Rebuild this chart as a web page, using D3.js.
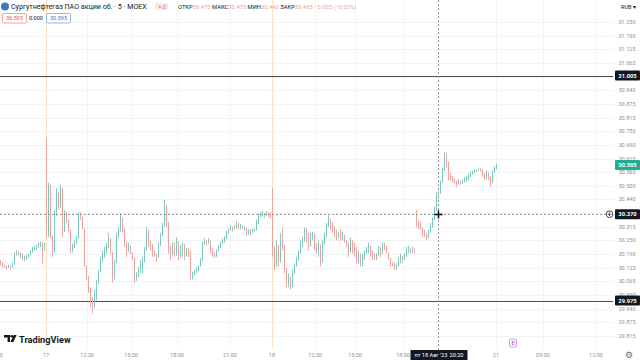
<!DOCTYPE html>
<html>
<head>
  <meta charset="utf-8">
  <style>
    body { margin: 0; background: #fff; }
    svg { display: block; font-family: Roboto, "Noto Sans", sans-serif; }
  </style>
</head>
<body>
  <div id="chart"></div>
  <script src="https://d3js.org/d3.v7.min.js"></script>
  <script>
    // 5-min candles of SNGS, Aug 16 evening .. Aug 18 close (one entry ~ every 1.5 bars)
    var opens = [
      30.15, 30.145, 30.135, 30.13, 30.125, 30.135, 30.125, 30.14, 30.19, 30.195, 30.19, 30.19, 30.17, 30.17, 30.175, 30.185, 30.195, 30.215, 30.22, 30.225, 30.235, 30.24, 30.23,
      30.525, 30.29, 30.505, 30.27, 30.205, 30.37, 30.47, 30.41, 30.49, 30.29, 30.375, 30.345, 30.30, 30.205, 30.22, 30.235, 30.26, 30.37, 30.36, 30.305, 30.135, 30.085, 30.025,
      29.975, 29.955, 30.00, 30.055, 30.105, 30.16, 30.185, 30.205, 30.225, 30.26, 30.195, 30.08, 30.15, 30.27, 30.30, 30.35, 30.305, 30.24, 30.205, 30.225, 30.195, 30.17, 30.08,
      30.085, 30.115, 30.135, 30.15, 30.205, 30.29, 30.245, 30.23, 30.195, 30.19, 30.17, 30.225, 30.27, 30.315, 30.41, 30.335, 30.215, 30.185, 30.225, 30.195, 30.245, 30.18, 30.205,
      30.225, 30.18, 30.205, 30.195, 30.08, 30.095, 30.105, 30.115, 30.135, 30.16, 30.24, 30.25, 30.24, 30.25, 30.205, 30.19, 30.18, 30.205, 30.22, 30.24, 30.25, 30.26, 30.285,
      30.30, 30.31, 30.30, 30.31, 30.33, 30.31, 30.31, 30.305, 30.305, 30.28, 30.30, 30.29, 30.30, 30.30, 30.33, 30.365, 30.365, 30.375, 30.365, 30.375, 30.365,
      30.375, 30.205, 30.135, 30.23, 30.15, 30.25, 30.23, 30.115, 30.06, 30.08, 30.045, 30.10, 30.135, 30.16, 30.19, 30.24, 30.25, 30.30, 30.26, 30.23, 30.27, 30.275, 30.225,
      30.205, 30.23, 30.15, 30.24, 30.27, 30.315, 30.345, 30.315, 30.30, 30.285, 30.27, 30.28, 30.26, 30.275, 30.25, 30.235, 30.195, 30.25, 30.215, 30.195, 30.17, 30.19, 30.14,
      30.18, 30.195, 30.21, 30.225, 30.19, 30.185, 30.175, 30.185, 30.215, 30.19, 30.23, 30.22, 30.195, 30.17, 30.14, 30.135, 30.125, 30.135, 30.16, 30.18, 30.165, 30.19, 30.21,
      30.215, 30.195, 30.21, 30.365, 30.335, 30.315, 30.305, 30.285, 30.275, 30.26, 30.29, 30.315, 30.345, 30.39, 30.47, 30.465, 30.515, 30.57, 30.62, 30.61, 30.545, 30.54, 30.525,
      30.515, 30.51, 30.52, 30.515, 30.52, 30.535, 30.535, 30.545, 30.555, 30.56, 30.57, 30.57, 30.575, 30.57, 30.55, 30.535, 30.56, 30.54, 30.515, 30.565, 30.58
    ];
    var highs = [
      30.16, 30.15, 30.14, 30.135, 30.14, 30.135, 30.15, 30.195, 30.205, 30.20, 30.195, 30.19, 30.18, 30.185, 30.19, 30.205, 30.22, 30.225, 30.23, 30.24, 30.245, 30.24, 30.24,
      30.72, 30.515, 30.505, 30.27, 30.39, 30.49, 30.47, 30.505, 30.49, 30.39, 30.38, 30.345, 30.30, 30.235, 30.25, 30.27, 30.38, 30.38, 30.36, 30.305, 30.135, 30.085, 30.035,
      29.99, 30.025, 30.07, 30.115, 30.175, 30.205, 30.22, 30.24, 30.285, 30.26, 30.195, 30.16, 30.285, 30.31, 30.375, 30.355, 30.305, 30.245, 30.24, 30.225, 30.195, 30.17, 30.105,
      30.13, 30.16, 30.175, 30.22, 30.31, 30.30, 30.25, 30.235, 30.205, 30.19, 30.24, 30.285, 30.33, 30.435, 30.41, 30.335, 30.225, 30.24, 30.24, 30.265, 30.245, 30.23, 30.24,
      30.235, 30.215, 30.215, 30.205, 30.105, 30.115, 30.125, 30.135, 30.17, 30.245, 30.26, 30.25, 30.26, 30.25, 30.215, 30.195, 30.21, 30.23, 30.245, 30.26, 30.27, 30.295, 30.305,
      30.32, 30.315, 30.32, 30.34, 30.33, 30.325, 30.32, 30.315, 30.305, 30.30, 30.30, 30.305, 30.305, 30.345, 30.375, 30.38, 30.385, 30.375, 30.385, 30.38, 30.38,
      30.49, 30.22, 30.25, 30.23, 30.285, 30.31, 30.23, 30.125, 30.10, 30.085, 30.115, 30.145, 30.175, 30.205, 30.25, 30.265, 30.31, 30.305, 30.285, 30.285, 30.29, 30.28, 30.24,
      30.25, 30.23, 30.25, 30.285, 30.33, 30.365, 30.35, 30.335, 30.315, 30.30, 30.29, 30.30, 30.29, 30.27, 30.25, 30.24, 30.265, 30.25, 30.24, 30.22, 30.205, 30.18, 30.19,
      30.205, 30.22, 30.24, 30.225, 30.205, 30.19, 30.19, 30.225, 30.22, 30.24, 30.24, 30.225, 30.195, 30.17, 30.15, 30.15, 30.145, 30.175, 30.19, 30.18, 30.19, 30.22, 30.225,
      30.21, 30.22, 30.215, 30.39, 30.345, 30.335, 30.31, 30.30, 30.285, 30.30, 30.33, 30.355, 30.405, 30.47, 30.475, 30.525, 30.585, 30.655, 30.65, 30.61, 30.56, 30.545, 30.535,
      30.525, 30.53, 30.525, 30.53, 30.54, 30.545, 30.555, 30.565, 30.57, 30.575, 30.575, 30.58, 30.58, 30.575, 30.56, 30.57, 30.56, 30.545, 30.57, 30.59, 30.60
    ];
    var lows = [
      30.135, 30.125, 30.125, 30.115, 30.125, 30.115, 30.13, 30.14, 30.18, 30.18, 30.17, 30.16, 30.155, 30.16, 30.17, 30.18, 30.195, 30.205, 30.205, 30.215, 30.22, 30.145, 30.205,
      30.265, 30.265, 30.26, 30.175, 30.195, 30.36, 30.39, 30.40, 30.265, 30.29, 30.33, 30.285, 30.19, 30.195, 30.215, 30.235, 30.26, 30.345, 30.30, 30.13, 30.07, 30.01, 29.945,
      29.915, 29.94, 29.975, 30.05, 30.105, 30.15, 30.17, 30.19, 30.215, 30.185, 30.055, 30.07, 30.145, 30.26, 30.29, 30.285, 30.22, 30.175, 30.195, 30.185, 30.16, 30.055, 30.065,
      30.08, 30.10, 30.10, 30.15, 30.205, 30.22, 30.205, 30.175, 30.175, 30.15, 30.17, 30.225, 30.27, 30.315, 30.31, 30.19, 30.16, 30.18, 30.175, 30.18, 30.16, 30.17, 30.175,
      30.16, 30.175, 30.175, 30.07, 30.07, 30.09, 30.10, 30.11, 30.13, 30.155, 30.23, 30.225, 30.235, 30.19, 30.175, 30.17, 30.175, 30.20, 30.215, 30.235, 30.24, 30.255, 30.28,
      30.295, 30.29, 30.30, 30.305, 30.30, 30.30, 30.30, 30.295, 30.27, 30.275, 30.275, 30.285, 30.29, 30.295, 30.325, 30.355, 30.36, 30.355, 30.365, 30.355, 30.35,
      30.175, 30.115, 30.13, 30.13, 30.15, 30.205, 30.10, 30.035, 30.035, 30.025, 30.035, 30.10, 30.13, 30.155, 30.19, 30.22, 30.245, 30.24, 30.205, 30.22, 30.25, 30.205, 30.19,
      30.175, 30.13, 30.15, 30.23, 30.265, 30.31, 30.30, 30.285, 30.265, 30.25, 30.26, 30.25, 30.25, 30.24, 30.22, 30.175, 30.195, 30.19, 30.175, 30.145, 30.145, 30.13, 30.13,
      30.16, 30.19, 30.19, 30.175, 30.16, 30.16, 30.16, 30.18, 30.175, 30.19, 30.205, 30.19, 30.16, 30.13, 30.13, 30.115, 30.115, 30.13, 30.145, 30.145, 30.16, 30.175, 30.19,
      30.19, 30.19, 30.19, 30.31, 30.30, 30.30, 30.265, 30.265, 30.25, 30.26, 30.285, 30.31, 30.345, 30.385, 30.44, 30.465, 30.515, 30.57, 30.585, 30.525, 30.525, 30.515, 30.51,
      30.495, 30.505, 30.505, 30.51, 30.515, 30.52, 30.525, 30.54, 30.55, 30.56, 30.565, 30.57, 30.565, 30.54, 30.525, 30.53, 30.525, 30.495, 30.515, 30.56, 30.575
    ];
    var closes = [
      30.145, 30.135, 30.13, 30.125, 30.135, 30.125, 30.14, 30.19, 30.195, 30.19, 30.19, 30.17, 30.17, 30.175, 30.185, 30.195, 30.215, 30.22, 30.225, 30.235, 30.24, 30.23, 30.23,
      30.29, 30.505, 30.27, 30.205, 30.37, 30.47, 30.41, 30.49, 30.29, 30.375, 30.345, 30.30, 30.205, 30.22, 30.235, 30.26, 30.37, 30.36, 30.305, 30.135, 30.085, 30.025, 29.975,
      29.955, 30.00, 30.055, 30.105, 30.16, 30.185, 30.205, 30.225, 30.26, 30.195, 30.08, 30.15, 30.27, 30.30, 30.35, 30.305, 30.24, 30.205, 30.225, 30.195, 30.17, 30.08, 30.085,
      30.115, 30.135, 30.15, 30.205, 30.29, 30.245, 30.23, 30.195, 30.19, 30.17, 30.225, 30.27, 30.315, 30.41, 30.335, 30.215, 30.185, 30.225, 30.195, 30.245, 30.18, 30.205, 30.225,
      30.18, 30.205, 30.195, 30.08, 30.095, 30.105, 30.115, 30.135, 30.16, 30.24, 30.25, 30.24, 30.25, 30.205, 30.19, 30.18, 30.205, 30.22, 30.24, 30.25, 30.26, 30.285, 30.30,
      30.31, 30.30, 30.31, 30.33, 30.31, 30.31, 30.305, 30.305, 30.28, 30.30, 30.29, 30.30, 30.30, 30.33, 30.365, 30.365, 30.375, 30.365, 30.375, 30.365, 30.36,
      30.205, 30.135, 30.23, 30.15, 30.25, 30.23, 30.115, 30.06, 30.08, 30.045, 30.10, 30.135, 30.16, 30.19, 30.24, 30.25, 30.30, 30.26, 30.23, 30.27, 30.275, 30.225, 30.205,
      30.23, 30.15, 30.24, 30.27, 30.315, 30.345, 30.315, 30.30, 30.285, 30.27, 30.28, 30.26, 30.275, 30.25, 30.235, 30.195, 30.25, 30.215, 30.195, 30.17, 30.19, 30.14, 30.18,
      30.195, 30.21, 30.225, 30.19, 30.185, 30.175, 30.185, 30.215, 30.19, 30.23, 30.22, 30.195, 30.17, 30.14, 30.135, 30.125, 30.135, 30.16, 30.18, 30.165, 30.19, 30.21, 30.215,
      30.195, 30.21, 30.205, 30.335, 30.315, 30.305, 30.285, 30.275, 30.26, 30.29, 30.315, 30.345, 30.39, 30.47, 30.465, 30.515, 30.57, 30.62, 30.61, 30.545, 30.54, 30.525, 30.515,
      30.51, 30.52, 30.515, 30.52, 30.535, 30.535, 30.545, 30.555, 30.56, 30.57, 30.57, 30.575, 30.57, 30.55, 30.535, 30.56, 30.54, 30.515, 30.565, 30.58, 30.595
    ];

    // price axis ticks and their labels as TradingView prints them
    var priceTicks = [31.25, 31.1875, 31.125, 31.0625, 31.0, 30.9375, 30.875, 30.8125, 30.75, 30.6875, 30.625, 30.5625,
                      30.5, 30.4375, 30.375, 30.3125, 30.25, 30.1875, 30.125, 30.0625, 30.0, 29.9375, 29.875, 29.8125];
    var priceTickLabels = ["31.250", "31.190", "31.125", "31.065", "31.000", "30.940", "30.875", "30.815", "30.750", "30.690", "30.625", "30.565",
                           "30.500", "30.440", "30.375", "30.315", "30.250", "30.190", "30.125", "30.065", "30.000", "29.940", "29.875", "29.815"];

    // time axis: position in candle slots, label
    var timeTickPos = [-2, 23, 43.5, 65.5, 88.5, 115, 136, 157.5, 177.5, 201.5, 248, 271.5, 298];
    var timeTickLabels = ["21:00", "17", "12:30", "15:00", "18:00", "21:00", "18", "12:30", "15:00", "18:00", "21", "09:00", "12:00"];
    var sessionStarts = [23, 136];

    var levels = [31.005, 29.975];
    var crossPrice = 30.370, crossIdx = 219;
    var crossTimeLabel = ["пт 18 Авг '23", "20:20"];
    var earningsPos = 256.5;

    if (opens.length != closes.length || highs.length != closes.length || lows.length != closes.length)
      throw new Error("length mismatch " + [opens.length, highs.length, lows.length, closes.length]);

    var width = 640, height = 360;
    var paneRight = 613, paneBottom = 348;
    var up = "#7ac7bc", down = "#eea09d";
    var axisText = "#8f929b", dark = "#131722";

    var data = closes.map(function(c, i) {
      return {i: i, o: opens[i], h: highs[i], l: lows[i], c: c};
    });

    var x = d3.scaleLinear().domain([0, 248]).range([0, 496]);
    var y = d3.scaleLinear().domain([31.25, 29.8125]).range([22, 336]);

    var svg = d3.select("#chart").append("svg")
        .attr("width", width).attr("height", height);

    // grid
    svg.append("g").selectAll("line").data(priceTicks).enter().append("line")
        .attr("x1", 0).attr("x2", paneRight)
        .attr("y1", d => Math.round(y(d)) + 0.5).attr("y2", d => Math.round(y(d)) + 0.5)
        .attr("stroke", "#f2f3f6");
    svg.append("g").selectAll("line").data(timeTickPos).enter().append("line")
        .attr("x1", d => Math.round(x(d)) + 0.5).attr("x2", d => Math.round(x(d)) + 0.5)
        .attr("y1", 0).attr("y2", paneBottom)
        .attr("stroke", "#f4f5f8");

    // session breaks
    svg.append("g").selectAll("line").data(sessionStarts).enter().append("line")
        .attr("x1", d => x(d) + 0.5).attr("x2", d => x(d) + 0.5)
        .attr("y1", 0).attr("y2", paneBottom)
        .attr("stroke", "#fbe3bd").attr("stroke-width", 1);

    // horizontal levels
    svg.append("g").selectAll("line").data(levels).enter().append("line")
        .attr("x1", 0).attr("x2", paneRight)
        .attr("y1", d => Math.round(y(d)) + 0.5).attr("y2", d => Math.round(y(d)) + 0.5)
        .attr("stroke", "#4a4d57").attr("stroke-width", 1);

    // candles
    var candle = svg.append("g").selectAll("g").data(data).enter().append("g");
    candle.append("line")
        .attr("x1", d => x(d.i) + 0.5).attr("x2", d => x(d.i) + 0.5)
        .attr("y1", d => y(d.h)).attr("y2", d => y(d.l))
        .attr("stroke", d => d.c >= d.o ? up : down).attr("stroke-width", 0.9);
    candle.append("rect")
        .attr("x", d => x(d.i))
        .attr("width", 1)
        .attr("y", d => y(Math.max(d.o, d.c)))
        .attr("height", d => Math.max(0.8, Math.abs(y(d.o) - y(d.c))))
        .attr("fill", d => d.c >= d.o ? up : down);

    // crosshair
    var cx = Math.round(x(crossIdx)) + 0.5, cy = Math.round(y(crossPrice)) + 0.5;
    svg.append("line").attr("x1", 0).attr("x2", paneRight).attr("y1", cy).attr("y2", cy)
        .attr("stroke", "#9598a1").attr("stroke-dasharray", "2,2");
    svg.append("line").attr("x1", cx).attr("x2", cx).attr("y1", 0).attr("y2", paneBottom + 3)
        .attr("stroke", "#9598a1").attr("stroke-dasharray", "2,2");
    svg.append("path").attr("d", "M" + (cx - 4) + "," + cy + "H" + (cx + 4) + "M" + cx + "," + (cy - 4) + "V" + (cy + 4))
        .attr("stroke", "#000").attr("stroke-width", 1.4);

    // price axis
    svg.append("g").selectAll("text").data(priceTicks).enter().append("text")
        .attr("x", 627).attr("y", d => y(d) + 2)
        .attr("text-anchor", "middle").attr("font-size", 5.6).attr("fill", axisText)
        .text((d, i) => priceTickLabels[i]);

    function priceBox(p, bg, label) {
      var g = svg.append("g").attr("transform", "translate(615," + (y(p) - 5) + ")");
      g.append("rect").attr("width", 25).attr("height", 10).attr("rx", 1).attr("fill", bg);
      g.append("text").attr("x", 12.5).attr("y", 7.2).attr("text-anchor", "middle")
          .attr("font-size", 5.8).attr("font-weight", "bold").attr("fill", "#fff").text(label);
    }
    levels.forEach(p => priceBox(p, dark, p.toFixed(3)));
    priceBox(closes[closes.length - 1], "#22ab94", closes[closes.length - 1].toFixed(3));
    priceBox(crossPrice, dark, crossPrice.toFixed(3));
    // plus-in-circle button next to crosshair label
    svg.append("circle").attr("cx", 609.5).attr("cy", y(crossPrice)).attr("r", 3.3)
        .attr("fill", "#fff").attr("stroke", dark).attr("stroke-width", 0.8);
    svg.append("path").attr("d", "M607.7," + y(crossPrice) + "H611.3M609.5," + (y(crossPrice) - 1.8) + "V" + (y(crossPrice) + 1.8))
        .attr("stroke", dark).attr("stroke-width", 0.7);

    // time axis
    svg.append("g").selectAll("text").data(timeTickPos).enter().append("text")
        .attr("x", d => x(d)).attr("y", 357)
        .attr("text-anchor", "middle").attr("font-size", 5.6).attr("fill", axisText)
        .text((d, i) => timeTickLabels[i]);
    var tip = svg.append("g").attr("transform", "translate(" + (cx - 28) + ",350)");
    tip.append("rect").attr("width", 57).attr("height", 10).attr("fill", dark);
    tip.append("text").attr("x", 4).attr("y", 7.2).attr("font-size", 5.6).attr("fill", "#fff").text(crossTimeLabel[0]);
    tip.append("text").attr("x", 53).attr("y", 7.2).attr("text-anchor", "end").attr("font-size", 5.6).attr("fill", "#fff").text(crossTimeLabel[1]);
    svg.append("text").attr("x", 629).attr("y", 358).attr("text-anchor", "middle")
        .attr("font-size", 9).attr("fill", "#6a6d78").attr("font-family", "DejaVu Sans").text("⚙");

    // earnings marker
    var eg = svg.append("g").attr("transform", "translate(" + (x(earningsPos) - 3.5) + ",339)");
    eg.append("rect").attr("width", 7).attr("height", 8).attr("rx", 1)
        .attr("fill", "#fbeefe").attr("stroke", "#d18fe0").attr("stroke-width", 0.8);
    eg.append("text").attr("x", 3.5).attr("y", 6).attr("text-anchor", "middle")
        .attr("font-size", 5.5).attr("fill", "#b45ccc").text("E");

    // TradingView logo
    var logo = svg.append("g").attr("transform", "translate(4,335)");
    logo.append("path").attr("d", "M0,0H6V7H3.6V2.4H0Z").attr("fill", dark);
    logo.append("circle").attr("cx", 7.7).attr("cy", 1.3).attr("r", 1.3).attr("fill", dark);
    logo.append("path").attr("d", "M9.6,0H12.6L9.4,7H6.4Z").attr("fill", dark);
    svg.append("text").attr("x", 19).attr("y", 342.5).attr("font-size", 9.2).attr("font-weight", "bold")
        .attr("fill", dark).text("TradingView");

    // header
    svg.append("circle").attr("cx", 5).attr("cy", 6.5).attr("r", 4).attr("fill", "#3d7bbf");
    svg.append("text").attr("x", 11).attr("y", 9).attr("font-size", 7.1).attr("fill", dark)
        .text("Сургутнефтегаз ПАО акции об. · 5 · MOEX");
    svg.append("rect").attr("x", 155).attr("y", 3).attr("width", 13).attr("height", 7).attr("rx", 1.5).attr("fill", "#fde4e6");
    svg.append("text").attr("x", 158).attr("y", 8.6).attr("font-size", 6).attr("fill", "#e8636f").text("= ≡");

    var hv = data[crossIdx], prev = data[crossIdx - 1].c;
    var chg = hv.c - prev;
    var ohlc = svg.append("text").attr("x", 178).attr("y", 8.8).attr("font-size", 5.8);
    [["ОТКР", hv.o], ["МАКС", hv.h], ["МИН", hv.l], ["ЗАКР", hv.c]].forEach(function(p) {
      ohlc.append("tspan").attr("fill", dark).text(p[0]);
      ohlc.append("tspan").attr("fill", down).text(p[1].toFixed(3) + " ");
    });
    ohlc.append("tspan").attr("fill", down)
        .text("−" + Math.abs(chg).toFixed(3) + " (−" + Math.abs(chg / prev * 100).toFixed(2) + "%)");

    svg.append("text").attr("x", 636).attr("y", 8.5).attr("text-anchor", "end").attr("font-size", 5.6)
        .attr("fill", dark).text("RUB ▾");

    var last = closes[closes.length - 1];
    svg.append("rect").attr("x", 2.5).attr("y", 13.5).attr("width", 24).attr("height", 9.5).attr("rx", 1.5)
        .attr("fill", "#fff").attr("stroke", "#f08a8a").attr("stroke-width", 0.8);
    svg.append("text").attr("x", 14.5).attr("y", 20.3).attr("text-anchor", "middle").attr("font-size", 5.6)
        .attr("fill", "#e5535d").text(last.toFixed(3));
    svg.append("text").attr("x", 36).attr("y", 20.3).attr("text-anchor", "middle").attr("font-size", 5.6)
        .attr("fill", dark).text((0).toFixed(3));
    svg.append("rect").attr("x", 46.5).attr("y", 13.5).attr("width", 24).attr("height", 9.5).attr("rx", 1.5)
        .attr("fill", "#fff").attr("stroke", "#7ea6e0").attr("stroke-width", 0.8);
    svg.append("text").attr("x", 58.5).attr("y", 20.3).attr("text-anchor", "middle").attr("font-size", 5.6)
        .attr("fill", "#3f73c4").text(last.toFixed(3));
  </script>
</body>
</html>
